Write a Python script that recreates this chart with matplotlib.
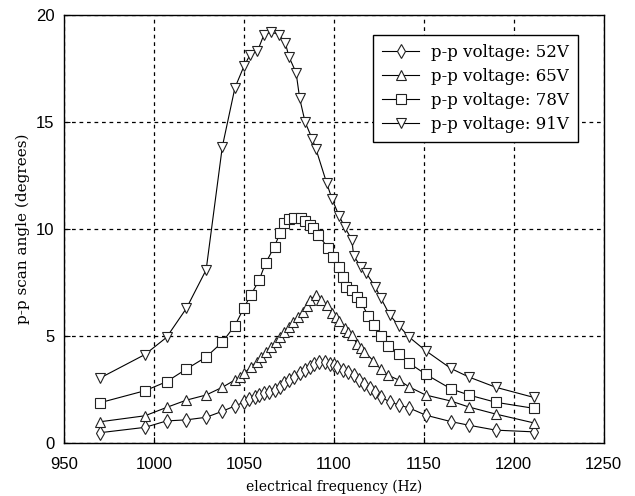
import matplotlib
matplotlib.use("Agg")
import matplotlib.pyplot as plt

# 52V (diamonds)
f52 = [970, 995, 1007, 1018, 1029, 1038, 1045, 1050, 1053, 1056, 1058.5, 1061, 1064, 1067,
       1070, 1072.5, 1075, 1078, 1081, 1084, 1086.5, 1089, 1092, 1095, 1098, 1100, 1102,
       1105, 1108, 1111, 1114, 1117, 1120, 1123, 1126, 1131, 1136, 1142, 1151, 1165, 1175,
       1190, 1211]
v52 = [0.5, 0.75, 1.05, 1.1, 1.22, 1.5, 1.75, 1.92, 2.05, 2.18, 2.27, 2.34, 2.42, 2.5,
       2.65, 2.8, 2.95, 3.1, 3.27, 3.43, 3.58, 3.72, 3.8, 3.8, 3.72, 3.65, 3.57,
       3.45, 3.33, 3.18, 2.98, 2.78, 2.58, 2.4, 2.18, 1.94, 1.8, 1.65, 1.32, 1.02, 0.85,
       0.62, 0.54]

# 65V (triangles up)
f65 = [970, 995, 1007, 1018, 1029, 1038, 1045, 1048, 1050, 1054, 1057, 1059.5, 1062, 1065,
       1068, 1070, 1072.5, 1075, 1077, 1080, 1083, 1085, 1087, 1090, 1093, 1096, 1099, 1101,
       1103, 1106, 1108, 1110, 1113, 1115, 1117, 1122, 1126, 1130, 1136, 1142, 1151, 1165,
       1175, 1190, 1211]
v65 = [1.01, 1.29, 1.68, 2.02, 2.26, 2.62, 2.96, 3.11, 3.27, 3.58, 3.81, 4.02, 4.28, 4.51,
       4.75, 4.98, 5.21, 5.45, 5.68, 5.92, 6.15, 6.4, 6.7, 6.95, 6.7, 6.46, 6.1, 5.92,
       5.7, 5.37, 5.2, 5.06, 4.62, 4.44, 4.28, 3.85, 3.47, 3.19, 2.96, 2.63, 2.26, 1.98,
       1.7, 1.37, 0.96]

# 78V (squares)
f78 = [970, 995, 1007, 1018, 1029, 1038, 1045, 1050, 1054, 1058.5, 1062, 1067, 1070, 1072,
       1075, 1078, 1082, 1084, 1086.5, 1088.5, 1091, 1097, 1099.5, 1103, 1105, 1107, 1110,
       1113, 1115, 1119, 1122.5, 1126, 1130, 1136, 1142, 1151, 1165, 1175, 1190, 1211]
v78 = [1.9, 2.46, 2.88, 3.47, 4.03, 4.73, 5.5, 6.33, 6.95, 7.63, 8.41, 9.19, 9.81, 10.28,
       10.48, 10.51, 10.51, 10.36, 10.2, 10.05, 9.75, 9.11, 8.68, 8.25, 7.75, 7.32, 7.16,
       6.82, 6.62, 5.95, 5.55, 5.0, 4.57, 4.17, 3.74, 3.23, 2.55, 2.26, 1.92, 1.64]

# 91V (triangles down)
f91 = [970, 995, 1007, 1018, 1029, 1038, 1045, 1050, 1053.5, 1057.5, 1061, 1065, 1069.5,
       1073, 1075, 1079, 1081, 1084, 1088, 1090, 1096, 1099, 1103, 1106, 1110, 1111, 1115,
       1118, 1123, 1126, 1131, 1136, 1142, 1151, 1165, 1175, 1190, 1211]
v91 = [3.05, 4.15, 4.95, 6.3, 8.1, 13.85, 16.6, 17.6, 18.15, 18.3, 19.05, 19.2, 19.08,
       18.7, 18.05, 17.3, 16.1, 15.0, 14.2, 13.75, 12.15, 11.4, 10.6, 10.1, 9.5, 8.75, 8.25,
       7.95, 7.3, 6.8, 6.0, 5.5, 4.95, 4.33, 3.5, 3.1, 2.62, 2.15]

labels = ["p-p voltage: 52V", "p-p voltage: 65V", "p-p voltage: 78V", "p-p voltage: 91V"]

fig = plt.figure(figsize=(6.35, 4.96), dpi=100)
ax = fig.add_axes([0.1008, 0.106, 0.850, 0.864])

style = dict(color="black", lw=0.8, mfc="white", mec="#222222", mew=0.8)
ax.plot(f52, v52, marker="d", ms=7.5, label=labels[0], **style)
ax.plot(f65, v65, marker="^", ms=7.5, label=labels[1], **style)
ax.plot(f78, v78, marker="s", ms=7, label=labels[2], **style)
ax.plot(f91, v91, marker="v", ms=7.5, label=labels[3], **style)

ax.set_xlim(950, 1250)
ax.set_ylim(0, 20)
ax.set_xticks([950, 1000, 1050, 1100, 1150, 1200, 1250])
ax.set_yticks([0, 5, 10, 15, 20])
ax.tick_params(direction="in", labelsize=12, length=4)
ax.tick_params(axis="x", pad=10)
ax.tick_params(axis="y", pad=7)
for lab in ax.get_xticklabels() + ax.get_yticklabels():
    lab.set_family("Liberation Sans")
ax.grid(True, color="black", linestyle=(0, (3, 3)), lw=0.9)
ax.set_axisbelow(True)
for s in ax.spines.values():
    s.set_linewidth(1.0)

ax.set_xlabel("electrical frequency (Hz)", family="DejaVu Serif", fontsize=10, labelpad=5)
ax.set_ylabel("p-p scan angle (degrees)", family="DejaVu Serif", fontsize=11, labelpad=4)

leg = ax.legend(loc="upper right", bbox_to_anchor=(0.952, 0.953), borderaxespad=0,
                fancybox=False, framealpha=1, edgecolor="black",
                prop={"family": "DejaVu Serif", "size": 12},
                handlelength=2.2, handletextpad=0.7, labelspacing=0.42, borderpad=0.55)
leg.get_frame().set_linewidth(1.0)

fig.savefig("out.png", dpi=100)
